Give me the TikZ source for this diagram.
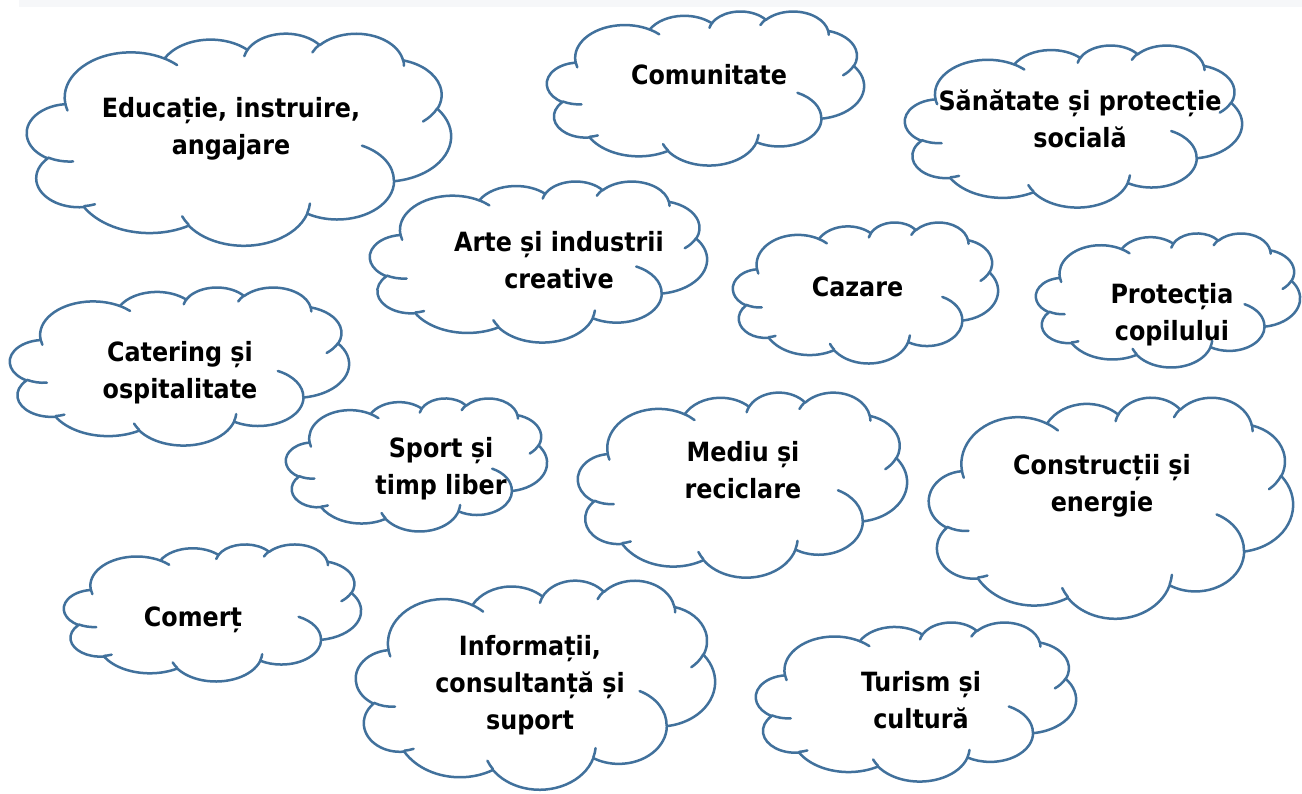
\documentclass[tikz,border=0pt]{standalone}
\usepackage{fontspec}
\newfontfamily\cloudfont{DejaVu Sans Condensed}
\definecolor{cloudblue}{HTML}{41719C}
\definecolor{bandgray}{HTML}{F6F7F9}
\tikzset{
  cloudline/.style={draw=cloudblue, line width=2.5pt, line join=round, line cap=round},
  cloudtext/.style={font=\cloudfont\bfseries\fontsize{26.5}{37}\selectfont, align=center, inner sep=0pt, text=black},
}
% arc of the Office cloud shape: rx, ry, visual start angle, visual sweep
\def\oarc#1#2#3#4{arc[start angle={atan2((#1)*sin(#3),(#2)*cos(#3))},
  delta angle={mod(atan2((#1)*sin(#3+#4),(#2)*cos(#3+#4))-atan2((#1)*sin(#3),(#2)*cos(#3))+720,360)},
  x radius=#1, y radius=#2]}
\newcommand\drawcloud[4]{% x0 y0 x1 y1 (pixel coordinates)
  \pgfmathsetmacro\cloudw{(#3-#1)/432}%
  \pgfmathsetmacro\cloudh{(#4-#2)/432}%
  \begin{scope}[shift={(#1,#2)}, x={(\cloudw pt,0pt)}, y={(0pt,-\cloudh pt)}]
    \draw[cloudline, fill=white] (39.00,143.70)
      \oarc{67.53}{91.90}{-190.4875}{123.7805}
      \oarc{53.33}{72.67}{-144.1024}{89.9452}
      \oarc{43.65}{59.45}{-145.8079}{99.7230}
      \oarc{48.57}{65.95}{-130.9861}{117.2417}
      \oarc{53.33}{72.73}{-78.7089}{109.0269}
      \oarc{67.75}{92.20}{-46.2673}{130.2690}
      \oarc{57.85}{78.67}{0.6250}{114.0333}
      \oarc{67.52}{92.15}{22.4516}{115.1726}
      \oarc{77.20}{105.43}{66.2426}{75.7110}
      \oarc{43.60}{59.18}{-274.9421}{146.7356}
      \oarc{43.45}{59.45}{-246.8285}{152.5189} -- cycle;
    \draw[cloudline]
      (46.93,261.77) \oarc{43.45}{59.45}{86.7420}{26.4295}
      (69.28,348.99) \oarc{43.60}{59.18}{73.6105}{11.4475}
      (164.78,390.90) \oarc{67.52}{92.15}{137.6242}{14.0811}
      (288.27,347.51) \oarc{67.52}{92.15}{6.4533}{15.9984}
      (341.29,229.54) \oarc{57.85}{78.67}{-70.2924}{70.9174}
      (417.98,153.54) \oarc{53.33}{72.73}{30.3180}{27.7515}
      (383.24,54.26) \oarc{48.57}{65.95}{-13.7443}{14.8589}
      (290.78,39.52) \oarc{48.57}{65.95}{-149.1815}{18.1954}
      (221.41,47.20) \oarc{43.65}{59.45}{-163.4943}{17.6864}
      (140.00,51.92) \oarc{67.53}{91.90}{-66.7070}{12.3194}
      (41.27,157.89) \oarc{67.53}{91.90}{157.6544}{11.8582};
  \end{scope}}
\begin{document}
\begin{tikzpicture}[x=1pt, y=-1pt]
  \fill[white] (0,0) rectangle (1302,793);
  \path[use as bounding box] (0,0) rectangle (1302,793);
  \fill[bandgray] (19,0) rectangle (1302,6.5);

  \drawcloud{27}{33}{451}{245}
  \node[cloudtext] (educatie) at (231,128.8) {\strut Educație, instruire,\\\strut angajare};

  \drawcloud{547}{11}{864}{165}
  \node[cloudtext] (comunitate) at (709,76.6) {\strut Comunitate};

  \drawcloud{905}{45}{1242}{207}
  \node[cloudtext] (sanatate) at (1080,121.3) {\strut Sănătate și protecție\\\strut socială};

  \drawcloud{370}{181}{707}{342}
  \node[cloudtext] (arte) at (559,262.6) {\strut Arte și industrii\\\strut creative};

  \drawcloud{733}{222}{998}{363}
  \node[cloudtext] (cazare) at (857.5,288.6) {\strut Cazare};

  \drawcloud{1036}{233}{1300}{367}
  \node[cloudtext] (protectia) at (1172,315) {\strut Protecția\\\strut copilului};

  \drawcloud{10}{287}{349}{445}
  \node[cloudtext] (catering) at (180,372.6) {\strut Catering și\\\strut ospitalitate};

  \drawcloud{286}{398}{547}{531}
  \node[cloudtext] (sport) at (441,469) {\strut Sport și\\\strut timp liber};

  \drawcloud{578}{392}{907}{577}
  \node[cloudtext] (mediu) at (743,473) {\strut Mediu și\\\strut reciclare};

  \drawcloud{929}{397}{1293}{618}
  \node[cloudtext] (constructii) at (1102,485.6) {\strut Construcții și\\\strut energie};

  \drawcloud{64}{544}{361}{681}
  \node[cloudtext] (comert) at (193,619) {\strut Comerț};

  \drawcloud{356}{580}{715}{789}
  \node[cloudtext] (informatii) at (530,684.6) {\strut Informații,\\\strut consultanță și\\\strut suport};

  \drawcloud{756}{622}{1076}{781}
  \node[cloudtext] (turism) at (921,702.4) {\strut Turism și\\\strut cultură};
\end{tikzpicture}
\end{document}
